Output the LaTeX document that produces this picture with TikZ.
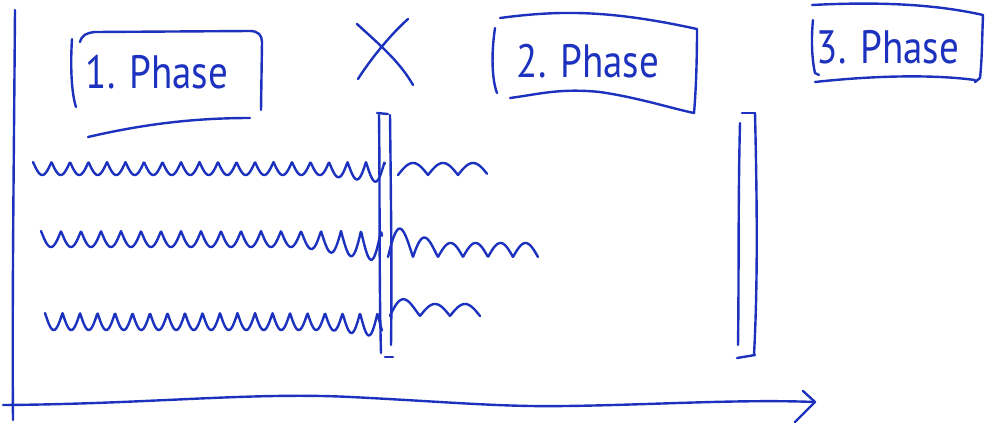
\documentclass[tikz,border=0pt]{standalone}
\usepackage{fontspec}
\setmainfont{PT Sans}
\definecolor{pen}{RGB}{28,50,190}
\tikzset{
  ink/.style={draw=pen, line width=2.4pt, line cap=round, line join=round},
  phaselabel/.style={text=pen, font=\fontsize{39}{42}\selectfont, inner sep=0pt, anchor=center},
}
\newcommand{\talltext}[1]{\scalebox{1}[1.2]{#1}}
\begin{document}
\begin{tikzpicture}[x=1pt,y=-1pt]
\useasboundingbox (0,0) rectangle (992,434);

% axes
\coordinate (ytop) at (15,10);
\coordinate (ybot) at (13,420);
\coordinate (xstart) at (3,405);
\coordinate (xtip) at (815,402);
\coordinate (barbup) at (803,391);
\coordinate (barblo) at (795,422);
\draw[ink] (ytop) .. controls (14,150) and (12,300) .. (ybot);
\draw[ink] (xstart) .. controls (150,404) and (250,392) .. (351,397)
  .. controls (450,402) and (500,407) .. (565,406)
  .. controls (650,405) and (740,399) .. (xtip);
\draw[ink] (barbup) -- (xtip) -- (barblo);

% X mark
\coordinate (xa1) at (357,24); \coordinate (xa2) at (413,85);
\coordinate (xb1) at (408,19); \coordinate (xb2) at (358,79);
\draw[ink] (xa1) .. controls (380,45) and (400,62) .. (xa2);
\draw[ink] (xb1) .. controls (390,35) and (370,60) .. (xb2);

% Phase labels
\node[phaselabel] (p1) at (157,72) {\talltext{1. Phase}};
\node[phaselabel] (p2) at (588,61) {\talltext{2. Phase}};
\node[phaselabel] (p3) at (888,47) {\talltext{3. Phase}};

% box 1
\draw[ink] (72,39) .. controls (70,70) and (72,95) .. (76,107);
\draw[ink] (80,42) .. controls (82,35) and (86,33) .. (95,32) -- (250,31) .. controls (258,31) and (262,35) .. (262,42) -- (261,110);
\draw[ink] (88,137) .. controls (140,125) and (190,118) .. (250,118);

% box 2
\draw[ink] (495,28) .. controls (491,55) and (492,80) .. (497,93);
\draw[ink] (500,18) .. controls (560,10) and (610,10) .. (697,29) .. controls (697,60) and (696,90) .. (694,113);
\draw[ink] (510,98) .. controls (540,94) and (560,88) .. (600,92) .. controls (640,98) and (670,108) .. (694,113);

% box 3
\draw[ink] (813,20) .. controls (811,40) and (812,60) .. (815,73) -- (819,75);
\draw[ink] (812,5) .. controls (870,2) and (930,3) .. (983,15) .. controls (982,40) and (982,60) .. (980,78) -- (975,82);
\draw[ink] (815,82) .. controls (870,76) and (930,74) .. (975,80);

% bar 1
\draw[ink] (377,113) -- (388,114);
\draw[ink] (379,115) .. controls (380,200) and (379,280) .. (381,353);
\draw[ink] (390,115) .. controls (391,200) and (392,280) .. (391,345);
\draw[ink] (385,357) -- (393,357);

% bar 2
\draw[ink] (742,113) -- (755,113);
\draw[ink] (740,123) .. controls (738,200) and (739,280) .. (738,345);
\draw[ink] (755,113) .. controls (757,200) and (758,280) .. (754,355);
\draw[ink] (737,358) -- (755,355);

% wavy lines, phase 1
\draw[ink] plot[domain=33:385, samples=500] (\x, {162 + 2*(6.5+max(0,\x-320)*0.06)*abs(sin((\x-33)*9.7297))});
\draw[ink] plot[domain=41:382, samples=500] (\x, {231 + 2*(8+max(0,\x-300)*0.09)*abs(sin((\x-41)*9))});
\draw[ink] plot[domain=45:382, samples=500] (\x, {313 + 2*(8.5+max(0,\x-330)*0.07)*abs(sin((\x-45)*10.2857))});

% wavy lines, phase 2
\draw[ink] plot[domain=398:487, samples=200] (\x, {175 - 2*6*abs(sin((\x-398)*6))});
\draw[ink] plot[domain=388:538, samples=300] (\x, {257 - 2*(7+max(0,440-\x)*0.18)*abs(sin((\x-388)*7.2))});
\draw[ink] plot[domain=390:480, samples=200] (\x, {316 - 2*(6+max(0,420-\x)*0.15)*abs(sin((\x-390)*6))});
\end{tikzpicture}
\end{document}
